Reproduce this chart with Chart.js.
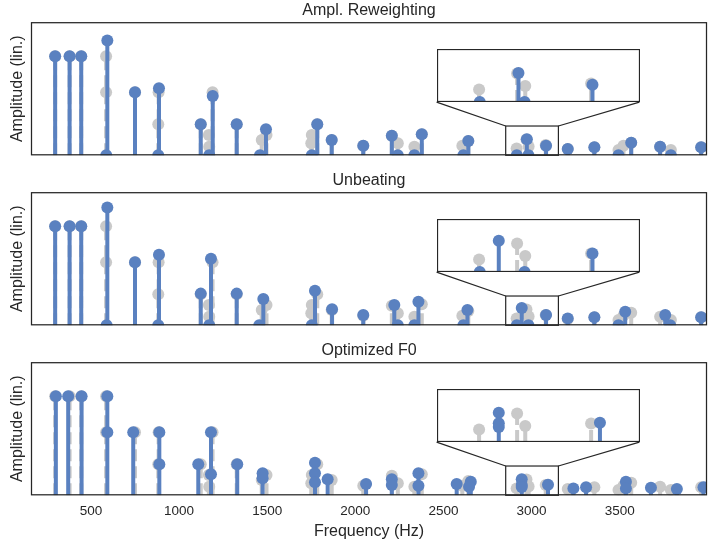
<!DOCTYPE html>
<html>
<head>
<meta charset="utf-8">
<script src="https://cdn.jsdelivr.net/npm/chart.js@4.4.0/dist/chart.umd.min.js"></script>
<style>
  html, body { margin: 0; padding: 0; background: #fff; }
  #wrap { position: relative; width: 708px; height: 544px; overflow: hidden; }
  .panel { position: absolute; left: 0; }
  .inset { position: absolute; background: #fff; }
</style>
</head>
<body>
<div id="wrap"></div>
<script>
// ---- data ----
const panelTitles = ["Ampl. Reweighting", "Unbeating", "Optimized F0"];
const freqTicks = [500, 1000, 1500, 2000, 2500, 3000, 3500];
const freqMin = 160;
const freqMax = 3995;
const zoomFreq = [2853, 3152];
const zoomAmp = 0.22;

// reference partials (gray), same in every panel
const targetFreq = [297, 379, 445, 586, 586, 750, 884, 882, 1123, 1190, 1169, 1171, 1327, 1469, 1496, 1784, 1753, 1750, 1866, 2045, 2207, 2241, 2335, 2377, 2607, 2641, 2915, 2971, 2983, 3080, 3205, 3356, 3493, 3521, 3565, 3729, 3790, 3962];
const targetAmp = [0.745, 0.745, 0.745, 0.745, 0.474, 0.474, 0.474, 0.233, 0.233, 0.474, 0.152, 0.065, 0.233, 0.115, 0.152, 0.233, 0.152, 0.09, 0.115, 0.072, 0.147, 0.09, 0.065, 0.158, 0.072, 0.107, 0.052, 0.118, 0.066, 0.077, 0.047, 0.06, 0.04, 0.072, 0.095, 0.065, 0.04, 0.06];

// estimated partials (blue), one pair per panel
const reweightFreq = [297, 379, 445, 593, 587, 750, 886, 882, 1123, 1191, 1171, 1327, 1493, 1459, 1784, 1753, 1866, 2045, 2207, 2241, 2335, 2377, 2613, 2641, 2916, 2973, 2982, 3082, 3205, 3356, 3493, 3565, 3729, 3790, 3962];
const reweightAmp = [0.745, 0.745, 0.745, 0.863, 0, 0.474, 0.503, 0, 0.233, 0.445, 0, 0.233, 0.195, 0, 0.233, 0, 0.115, 0.072, 0.147, 0, 0, 0.158, 0, 0.107, 0, 0.12, 0, 0.072, 0.047, 0.06, 0, 0.095, 0.065, 0, 0.06];

const unbeatFreq = [297, 379, 445, 593, 589, 750, 886, 882, 1123, 1181, 1171, 1327, 1478, 1455, 1771, 1753, 1868, 2045, 2221, 2241, 2358, 2335, 2636, 2613, 2944, 2916, 2982, 3082, 3205, 3356, 3531, 3493, 3758, 3786, 3962];
const unbeatAmp = [0.745, 0.745, 0.745, 0.885, 0, 0.474, 0.53, 0, 0.238, 0.5, 0, 0.238, 0.197, 0, 0.26, 0, 0.12, 0.077, 0.152, 0, 0.177, 0, 0.115, 0, 0.13, 0, 0, 0.077, 0.052, 0.06, 0.102, 0, 0.077, 0, 0.06];

const optimFreq = [301, 371, 447, 593, 593, 740, 888, 888, 1109, 1181, 1181, 1330, 1474, 1474, 1771, 1771, 1771, 1843, 2061, 2207, 2207, 2358, 2358, 2575, 2655, 2645, 2944, 2944, 2944, 3093, 3237, 3309, 3535, 3535, 3677, 3824, 3975];
const optimAmp = [0.745, 0.745, 0.745, 0.745, 0.474, 0.474, 0.474, 0.233, 0.233, 0.474, 0.158, 0.233, 0.165, 0.128, 0.245, 0.165, 0.098, 0.12, 0.085, 0.12, 0.078, 0.165, 0.072, 0.085, 0.102, 0.065, 0.121, 0.078, 0.062, 0.08, 0.052, 0.06, 0.102, 0.052, 0.057, 0.047, 0.06];

// ---- style / layout ----
const BLUE = "#5a81c0";
const GRAY = "#c9c9c9";
const INK = "#262626";
const panelTop = [0, 170, 340];
const panelHeight = [170, 170, 204];
const insetBox = [0.6, 0.4, 0.3, 0.4]; // left, bottom, width, height (axes fraction)

Chart.defaults.font.family = '"Liberation Sans", Arial, sans-serif';
Chart.defaults.color = INK;

function markerPoints(freqs, amps){
    return freqs.map((f, i) => ({x: f, y: amps[i]}));
}
function stemPoints(freqs, amps){
    let pts = [];
    freqs.forEach((f, i) => {
        pts.push({x: f, y: 0}, {x: f, y: amps[i]}, {x: f, y: null});
    });
    return pts;
}
function makeDatasets(freqs, amps){
    return [
        {data: markerPoints(freqs, amps), showLine: false, pointRadius: 6, pointBorderWidth: 0, pointBackgroundColor: BLUE, clip: 0},
        {data: stemPoints(freqs, amps), borderColor: BLUE, borderWidth: 4, borderCapStyle: "butt", pointRadius: 0, spanGaps: false, clip: 0},
        {data: markerPoints(targetFreq, targetAmp), showLine: false, pointRadius: 6, pointBorderWidth: 0, pointBackgroundColor: GRAY, clip: 0},
        {data: stemPoints(targetFreq, targetAmp), borderColor: GRAY, borderWidth: 4, borderDash: [12, 5], borderCapStyle: "butt", pointRadius: 0, spanGaps: false, clip: 0}
    ];
}

const framePlugin = {
    id: "frame",
    afterDatasetsDraw(chart, args, opts){
        const {ctx, chartArea: a, scales} = chart;
        ctx.save();
        ctx.strokeStyle = INK;
        ctx.lineWidth = 1.25;
        ctx.strokeRect(a.left + 0.5, a.top + 0.5, a.right - a.left - 1, a.bottom - a.top - 1);
        if(opts.zoom){
            let w = a.right - a.left, h = a.bottom - a.top;
            let x0 = scales.x.getPixelForValue(zoomFreq[0]);
            let x1 = scales.x.getPixelForValue(zoomFreq[1]);
            let yT = scales.y.getPixelForValue(zoomAmp);
            let yB = scales.y.getPixelForValue(0);
            ctx.lineWidth = 1.2;
            ctx.strokeRect(x0, yT, x1 - x0, yB - yT);
            let iL = a.left + insetBox[0] * w;
            let iR = iL + insetBox[2] * w;
            let iB = a.bottom - insetBox[1] * h;
            ctx.beginPath();
            ctx.moveTo(iL, iB); ctx.lineTo(x0, yT);
            ctx.moveTo(iR, iB); ctx.lineTo(x1, yT);
            ctx.stroke();
        }
        ctx.restore();
    }
};

const blueFreqs = [reweightFreq, unbeatFreq, optimFreq];
const blueAmps = [reweightAmp, unbeatAmp, optimAmp];
const wrap = document.getElementById("wrap");

panelTitles.forEach((title, i) => {
    let last = i === panelTitles.length - 1;
    let canvas = document.createElement("canvas");
    canvas.className = "panel";
    canvas.style.top = panelTop[i] + "px";
    canvas.width = 708;
    canvas.height = panelHeight[i];
    wrap.appendChild(canvas);

    let chart = new Chart(canvas.getContext("2d"), {
        type: "line",
        data: {datasets: makeDatasets(blueFreqs[i], blueAmps[i])},
        options: {
            responsive: false, animation: false, events: [], devicePixelRatio: 1,
            layout: {autoPadding: false, padding: {left: 0, right: 1, top: 0, bottom: 0}},
            plugins: {
                legend: {display: false},
                tooltip: {enabled: false},
                title: {display: true, text: title, fullSize: false, color: INK, font: {size: 16, weight: "normal"}, padding: {top: 1, bottom: 2}},
                frame: {zoom: true}
            },
            scales: {
                x: {
                    type: "linear", min: freqMin, max: freqMax,
                    grid: {display: false, drawTicks: false}, border: {display: false},
                    afterBuildTicks: s => { s.ticks = freqTicks.map(v => ({value: v})); },
                    afterFit: s => { s.height = panelHeight[i] - 155.3; },
                    ticks: {display: last, padding: 8, color: INK, font: {size: 13.5}, callback: v => String(v)},
                    title: {display: last, text: "Frequency (Hz)", color: INK, font: {size: 16}, padding: {top: 0, bottom: 2.7}}
                },
                y: {
                    min: 0, max: 1,
                    grid: {display: false, drawTicks: false}, border: {display: false},
                    ticks: {display: false},
                    afterFit: s => { s.width = 31; },
                    title: {display: true, text: "Amplitude (lin.)", color: INK, font: {size: 16}, padding: {top: 7.9, bottom: 0}}
                }
            }
        },
        plugins: [framePlugin]
    });

    // zoomed inset
    let a = chart.chartArea;
    let w = a.right - a.left, h = a.bottom - a.top;
    let inset = document.createElement("canvas");
    inset.className = "inset";
    inset.width = Math.round(insetBox[2] * w);
    inset.height = Math.round(insetBox[3] * h);
    inset.style.left = Math.round(a.left + insetBox[0] * w) + "px";
    inset.style.top = Math.round(panelTop[i] + a.bottom - (insetBox[1] + insetBox[3]) * h) + "px";
    wrap.appendChild(inset);

    new Chart(inset.getContext("2d"), {
        type: "line",
        data: {datasets: makeDatasets(blueFreqs[i], blueAmps[i])},
        options: {
            responsive: false, animation: false, events: [], devicePixelRatio: 1,
            layout: {autoPadding: false, padding: 0},
            plugins: {legend: {display: false}, tooltip: {enabled: false}, frame: {zoom: false}},
            scales: {
                x: {type: "linear", min: zoomFreq[0], max: zoomFreq[1], display: false},
                y: {min: 0, max: zoomAmp, display: false}
            }
        },
        plugins: [framePlugin]
    });
});
</script>
</body>
</html>
